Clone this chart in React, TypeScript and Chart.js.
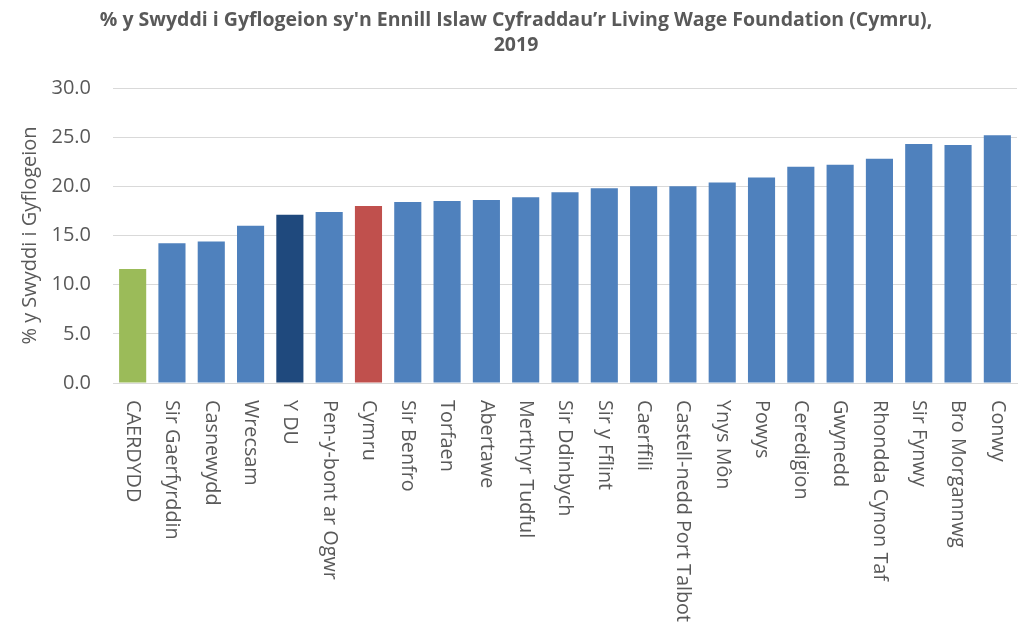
import React, { useEffect, useRef } from "react";
import { Chart, registerables } from "chart.js";

Chart.register(...registerables);

const titleLines = ["% y Swyddi i Gyflogeion sy'n Ennill Islaw Cyfraddau’r Living Wage Foundation (Cymru),", "2019"];
const yAxisTitle = "% y Swyddi i Gyflogeion";

const categories = [
  "CAERDYDD", "Sir Gaerfyrddin", "Casnewydd", "Wrecsam", "Y DU", "Pen-y-bont ar Ogwr", "Cymru",
  "Sir Benfro", "Torfaen", "Abertawe", "Merthyr Tudful", "Sir Ddinbych", "Sir y Fflint", "Caerffili",
  "Castell-nedd Port Talbot", "Ynys Môn", "Powys", "Ceredigion", "Gwynedd", "Rhondda Cynon Taf",
  "Sir Fynwy", "Bro Morgannwg", "Conwy",
];
const values = [
  11.6, 14.2, 14.4, 16.0, 17.1, 17.4, 18.0, 18.4, 18.5, 18.6, 18.9, 19.4, 19.8, 20.0,
  20.0, 20.4, 20.9, 22.0, 22.2, 22.8, 24.3, 24.2, 25.2,
];
const barColors = categories.map((c) =>
  c === "CAERDYDD" ? "#9BBB59" : c === "Y DU" ? "#1F497D" : c === "Cymru" ? "#C0504D" : "#4F81BD"
);

const FONT = "'Open Sans', 'Noto Sans', sans-serif";
const TEXT = "#595959";

const textPlugin = {
  id: "customText",
  afterDraw(chart: any) {
    const ctx = chart.ctx;
    const x = chart.scales.x;
    const area = chart.chartArea;
    ctx.save();
    // title
    ctx.fillStyle = TEXT;
    ctx.font = `bold 19.5px ${FONT}`;
    ctx.textAlign = "center";
    ctx.textBaseline = "middle";
    ctx.fillText(titleLines[0], 516, 20);
    ctx.fillText(titleLines[1], 516, 45);
    // y axis title
    ctx.save();
    ctx.translate(30, (area.top + area.bottom) / 2);
    ctx.rotate(-Math.PI / 2);
    ctx.font = `20px ${FONT}`;
    ctx.fillText(yAxisTitle, 0, 0);
    ctx.restore();
    // x labels rotated clockwise
    ctx.font = `19.8px ${FONT}`;
    ctx.textAlign = "left";
    ctx.textBaseline = "middle";
    categories.forEach((c, i) => {
      const px = x.getPixelForValue(i);
      ctx.save();
      ctx.translate(px, area.bottom + 17);
      ctx.rotate(Math.PI / 2);
      ctx.fillText(c, 0, 0);
      ctx.restore();
    });
    ctx.restore();
  },
};

export default function App() {
  const ref = useRef<HTMLCanvasElement | null>(null);
  useEffect(() => {
    if (!ref.current) return;
    const chart = new Chart(ref.current, {
      type: "bar",
      data: {
        labels: categories,
        datasets: [
          {
            data: values,
            backgroundColor: barColors,
            borderWidth: 0,
            barPercentage: 0.69,
            categoryPercentage: 1,
          },
        ],
      },
      options: {
        animation: false,
        responsive: false,
        maintainAspectRatio: false,
        layout: { padding: { top: 88, right: 13, left: 0, bottom: 0 } },
        plugins: { legend: { display: false }, title: { display: false }, tooltip: { enabled: false } },
        scales: {
          x: {
            grid: { display: false },
            border: { display: true, color: "#d9d9d9", width: 1 },
            ticks: { display: false },
            afterFit: (s: any) => {
              s.height = 630 - 383 - 0;
            },
          },
          y: {
            min: 0,
            max: 30,
            ticks: {
              stepSize: 5,
              color: TEXT,
              font: { family: FONT, size: 20 },
              padding: 22,
              callback: (v: any) => Number(v).toFixed(1),
            },
            grid: { color: "#d9d9d9", lineWidth: 1, drawTicks: false },
            border: { display: false },
            afterFit: (s: any) => {
              s.width = 113;
            },
          },
        },
      },
      plugins: [textPlugin],
    });
    return () => chart.destroy();
  }, []);
  return (
    <div style={{ position: "fixed", left: 0, top: 0, width: 1030, height: 630, background: "#fff" }}>
      <canvas ref={ref} width={1030} height={630} style={{ width: 1030, height: 630 }} />
    </div>
  );
}
